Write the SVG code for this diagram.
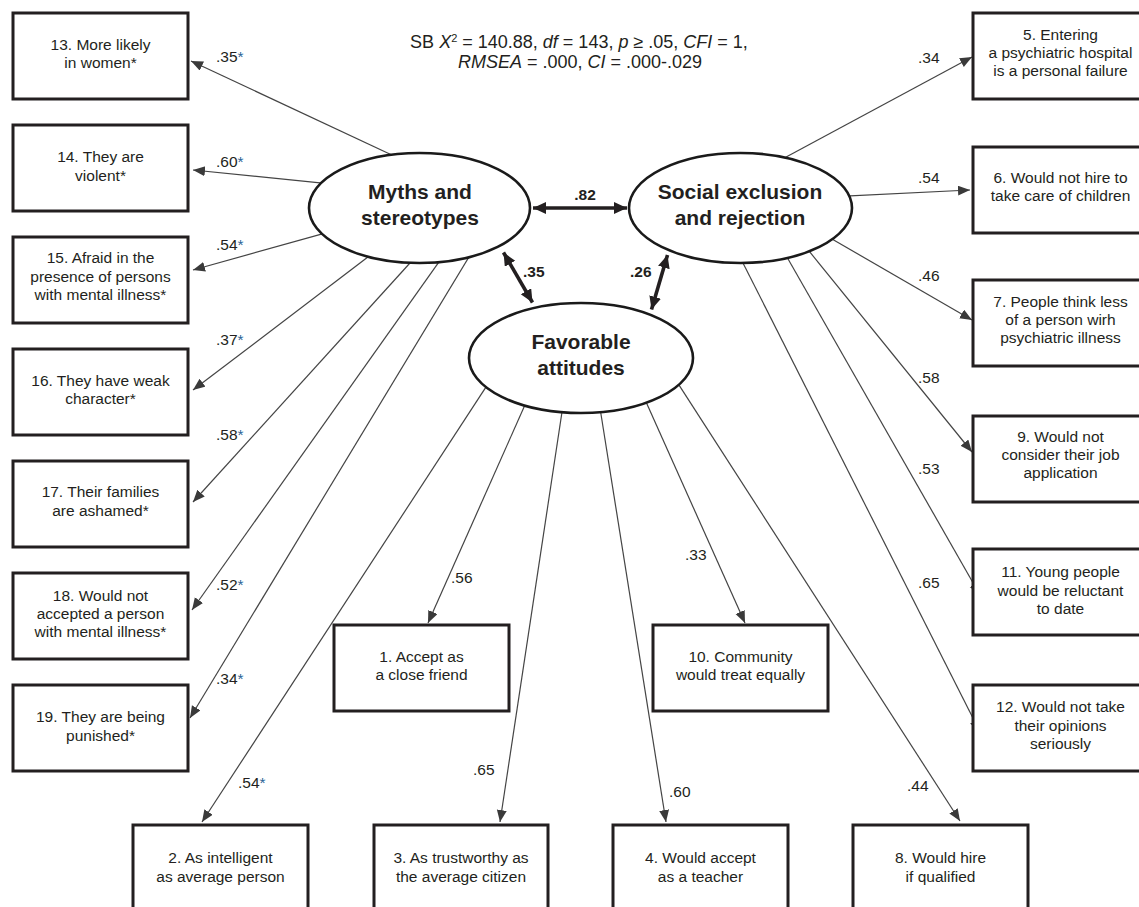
<svg xmlns="http://www.w3.org/2000/svg" width="1139" height="907" viewBox="0 0 1139 907">
<style>
.bx{fill:#fff;stroke:#231f20;stroke-width:3}
.el{fill:#fff;stroke:#1a1a1a;stroke-width:2.6}
.t{font-family:"Liberation Sans",Arial,sans-serif;font-size:15.5px;fill:#231f20;text-anchor:middle}
.lat{font-family:"Liberation Sans",Arial,sans-serif;font-size:21px;font-weight:bold;fill:#231f20;text-anchor:middle}
.lb{font-family:"Liberation Sans",Arial,sans-serif;font-size:15.5px;fill:#231f20}
.lbb{font-family:"Liberation Sans",Arial,sans-serif;font-size:15.5px;font-weight:bold;fill:#231f20}
.st{fill:#2a6496}
.hd{font-family:"Liberation Sans",Arial,sans-serif;font-size:18px;fill:#231f20;text-anchor:middle}
.c{stroke:#444;stroke-width:1.2;fill:none;marker-end:url(#ah)}
.d{stroke:#231f20;stroke-width:3.6;fill:none;marker-end:url(#dh);marker-start:url(#dh)}
</style>
<defs>
<marker id="ah" markerUnits="userSpaceOnUse" markerWidth="13" markerHeight="11" refX="12" refY="5" orient="auto"><path d="M0,0 L12,5 L0,10 Z" fill="#3a3a3a"/></marker>
<marker id="dh" markerUnits="userSpaceOnUse" markerWidth="14" markerHeight="13" refX="13" refY="6" orient="auto-start-reverse"><path d="M0,0 L13,6 L0,12 Z" fill="#231f20"/></marker>
</defs>
<rect width="1139" height="907" fill="#fff"/>
<g id="header">
<text class="hd" x="579" y="48">SB <tspan font-style="italic">X</tspan><tspan font-size="11" dy="-6">2</tspan><tspan dy="6"> = 140.88, </tspan><tspan font-style="italic">df</tspan> = 143, <tspan font-style="italic">p</tspan> ≥ .05, <tspan font-style="italic">CFI</tspan> = 1,</text>
<text class="hd" x="580" y="68"><tspan font-style="italic">RMSEA</tspan> = .000, <tspan font-style="italic">CI</tspan> = .000-.029</text>
</g>
<g id="connectors">
<line class="c" x1="395.6" y1="156.7" x2="191" y2="61"/>
<line class="c" x1="325" y1="183.4" x2="193" y2="170"/>
<line class="c" x1="325.9" y1="232.9" x2="193" y2="270"/>
<line class="c" x1="371.2" y1="254.6" x2="193" y2="390"/>
<line class="c" x1="412.7" y1="260" x2="193" y2="502"/>
<line class="c" x1="441.3" y1="258.7" x2="192" y2="610"/>
<line class="c" x1="471" y1="253.6" x2="190" y2="718"/>
<line class="c" x1="488.2" y1="383.7" x2="202" y2="822"/>
<line class="c" x1="526.6" y1="401.3" x2="428" y2="623"/>
<line class="c" x1="562.6" y1="408" x2="500" y2="822"/>
<line class="c" x1="600" y1="408" x2="666" y2="822"/>
<line class="c" x1="644.4" y1="398.3" x2="745" y2="623"/>
<line class="c" x1="676.8" y1="381.6" x2="960" y2="821"/>
<line class="c" x1="781.5" y1="159.5" x2="972" y2="57"/>
<line class="c" x1="845" y1="196.2" x2="970" y2="190"/>
<line class="c" x1="828.5" y1="237" x2="972" y2="320"/>
<line class="c" x1="806.5" y1="247.9" x2="972" y2="452"/>
<line class="c" x1="785.5" y1="254.5" x2="980" y2="595"/>
<line class="c" x1="741.2" y1="259.4" x2="980" y2="732"/>
<line class="d" x1="533" y1="208" x2="627" y2="208"/>
<line class="d" x1="503.5" y1="252.5" x2="532.5" y2="302.5"/>
<line class="d" x1="667.5" y1="255" x2="651.5" y2="309.5"/>
</g>
<g id="labels">
<text class="lb" x="216" y="62">.35<tspan class="st">*</tspan></text>
<text class="lb" x="216" y="167">.60<tspan class="st">*</tspan></text>
<text class="lb" x="216" y="250">.54<tspan class="st">*</tspan></text>
<text class="lb" x="216" y="345">.37<tspan class="st">*</tspan></text>
<text class="lb" x="216" y="440">.58<tspan class="st">*</tspan></text>
<text class="lb" x="216" y="590">.52<tspan class="st">*</tspan></text>
<text class="lb" x="216" y="684">.34<tspan class="st">*</tspan></text>
<text class="lb" x="238" y="788">.54<tspan class="st">*</tspan></text>
<text class="lb" x="451" y="583">.56</text>
<text class="lb" x="685" y="560">.33</text>
<text class="lb" x="473" y="775">.65</text>
<text class="lb" x="669" y="797">.60</text>
<text class="lb" x="907" y="791">.44</text>
<text class="lb" x="918" y="63">.34</text>
<text class="lb" x="918" y="183">.54</text>
<text class="lb" x="918" y="281">.46</text>
<text class="lb" x="918" y="383">.58</text>
<text class="lb" x="918" y="474">.53</text>
<text class="lb" x="918" y="588">.65</text>
<text class="lbb" x="585" y="200" text-anchor="middle">.82</text>
<text class="lbb" x="523" y="277">.35</text>
<text class="lbb" x="630" y="277">.26</text>
</g>
<g id="myths"><ellipse class="el" cx="419.5" cy="208" rx="110.5" ry="55"/><text class="lat" x="420" y="199">Myths and</text><text class="lat" x="420" y="225">stereotypes</text></g>
<g id="social"><ellipse class="el" cx="740.5" cy="208" rx="111.5" ry="55"/><text class="lat" x="740" y="199">Social exclusion</text><text class="lat" x="740" y="225">and rejection</text></g>
<g id="favorable"><ellipse class="el" cx="581" cy="358" rx="112" ry="55"/><text class="lat" x="581" y="349">Favorable</text><text class="lat" x="581" y="375">attitudes</text></g>
<g id="n13"><rect class="bx" x="13" y="13" width="175" height="86"/><text class="t" x="100.5" y="50">13. More likely</text><text class="t" x="100.5" y="68">in women*</text></g>
<g id="n14"><rect class="bx" x="13" y="125" width="175" height="86"/><text class="t" x="100.5" y="162">14. They are</text><text class="t" x="100.5" y="181">violent*</text></g>
<g id="n15"><rect class="bx" x="13" y="237" width="175" height="86"/><text class="t" x="100.5" y="263">15. Afraid in the</text><text class="t" x="100.5" y="282">presence of persons</text><text class="t" x="100.5" y="300">with mental illness*</text></g>
<g id="n16"><rect class="bx" x="13" y="349" width="175" height="86"/><text class="t" x="100.5" y="386">16. They have weak</text><text class="t" x="100.5" y="404">character*</text></g>
<g id="n17"><rect class="bx" x="13" y="461" width="175" height="86"/><text class="t" x="100.5" y="497">17. Their families</text><text class="t" x="100.5" y="516">are ashamed*</text></g>
<g id="n18"><rect class="bx" x="13" y="573" width="175" height="86"/><text class="t" x="100.5" y="601">18. Would not</text><text class="t" x="100.5" y="619">accepted a person</text><text class="t" x="100.5" y="637">with mental illness*</text></g>
<g id="n19"><rect class="bx" x="13" y="685" width="175" height="86"/><text class="t" x="100.5" y="722">19. They are being</text><text class="t" x="100.5" y="741">punished*</text></g>
<g id="n5"><rect class="bx" x="973" y="13" width="175" height="86"/><text class="t" x="1060.5" y="40">5. Entering</text><text class="t" x="1060.5" y="58">a psychiatric hospital</text><text class="t" x="1060.5" y="76">is a personal failure</text></g>
<g id="n6"><rect class="bx" x="973" y="147" width="175" height="86"/><text class="t" x="1060.5" y="183">6. Would not hire to</text><text class="t" x="1060.5" y="201">take care of children</text></g>
<g id="n7"><rect class="bx" x="973" y="280" width="175" height="86"/><text class="t" x="1060.5" y="307">7. People think less</text><text class="t" x="1060.5" y="325">of a person wirh</text><text class="t" x="1060.5" y="343">psychiatric illness</text></g>
<g id="n9"><rect class="bx" x="973" y="416" width="175" height="86"/><text class="t" x="1060.5" y="442">9. Would not</text><text class="t" x="1060.5" y="460">consider their job</text><text class="t" x="1060.5" y="478">application</text></g>
<g id="n11"><rect class="bx" x="973" y="549" width="175" height="86"/><text class="t" x="1060.5" y="577">11. Young people</text><text class="t" x="1060.5" y="596">would be reluctant</text><text class="t" x="1060.5" y="614">to date</text></g>
<g id="n12"><rect class="bx" x="973" y="685" width="175" height="86"/><text class="t" x="1060.5" y="712">12. Would not take</text><text class="t" x="1060.5" y="731">their opinions</text><text class="t" x="1060.5" y="749">seriously</text></g>
<g id="n1"><rect class="bx" x="334" y="625" width="175" height="86"/><text class="t" x="421.5" y="662">1. Accept as</text><text class="t" x="421.5" y="680">a close friend</text></g>
<g id="n10"><rect class="bx" x="653" y="625" width="175" height="86"/><text class="t" x="740.5" y="662">10. Community</text><text class="t" x="740.5" y="680">would treat equally</text></g>
<g id="n2"><rect class="bx" x="133" y="825" width="175" height="86"/><text class="t" x="220.5" y="863">2. As intelligent</text><text class="t" x="220.5" y="882">as average person</text></g>
<g id="n3"><rect class="bx" x="374" y="825" width="174" height="86"/><text class="t" x="461" y="863">3. As trustworthy as</text><text class="t" x="461" y="882">the average citizen</text></g>
<g id="n4"><rect class="bx" x="613" y="825" width="175" height="86"/><text class="t" x="700.5" y="863">4. Would accept</text><text class="t" x="700.5" y="882">as a teacher</text></g>
<g id="n8"><rect class="bx" x="853" y="825" width="175" height="86"/><text class="t" x="940.5" y="863">8. Would hire</text><text class="t" x="940.5" y="882">if qualified</text></g>
</svg>
